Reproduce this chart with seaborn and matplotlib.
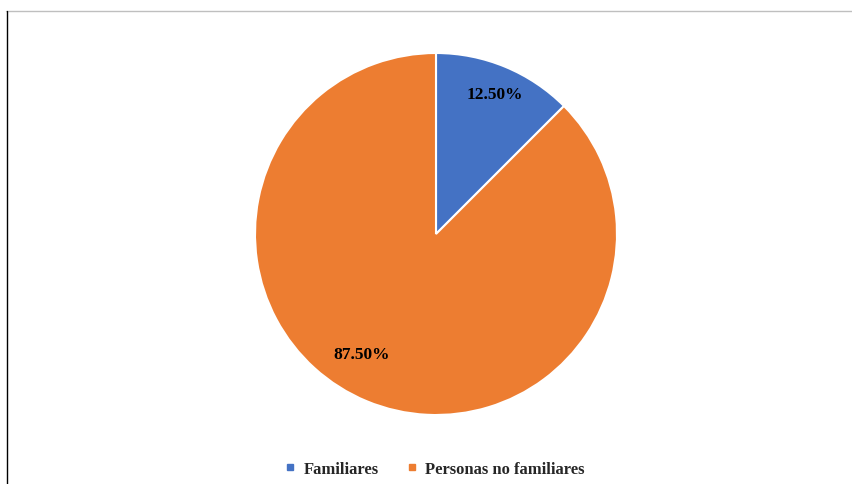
import matplotlib
matplotlib.use("Agg")
import matplotlib.pyplot as plt
from matplotlib.lines import Line2D
import numpy as np
import seaborn as sns

categories = ["Familiares", "Personas no familiares"]
shares = [12.5, 87.5]
colors_hex = ["#4472C4", "#ED7D31"]

sns.set_theme(style="white")
plt.rcParams["font.family"] = ["Liberation Serif", "DejaVu Serif"]
palette = sns.color_palette(colors_hex)

fig = plt.figure(figsize=(8.52, 4.85), dpi=100)
W, H = 852, 485
cx, cy, r = 436, 235, 181
ax = fig.add_axes([(cx - r) / W, (H - cy - r) / H, 2 * r / W, 2 * r / H])

wedges, texts, autotexts = ax.pie(
    shares, colors=palette, startangle=90, counterclock=False,
    autopct=lambda p: f"{p:.2f}%", pctdistance=0.85,
    wedgeprops=dict(edgecolor="white", linewidth=1.5),
    textprops=dict(fontsize=12.5, fontweight="bold", color="black"),
)
# place the larger label further round the slice
ang = np.deg2rad(90 - 212)
autotexts[1].set_position((0.78 * np.cos(ang), 0.78 * np.sin(ang)))
autotexts[0].set_position((autotexts[0].get_position()[0],
                           autotexts[0].get_position()[1] - 0.01))
ax.set_xlim(-1, 1)
ax.set_ylim(-1, 1)
ax.set_aspect("equal")
ax.axis("off")

handles = [Line2D([], [], marker="s", linestyle="none", markersize=5,
                  markerfacecolor=c, markeredgecolor=c) for c in palette]
fig.legend(handles, categories, loc="center", bbox_to_anchor=(434 / W, 1 - 470 / H),
           ncol=2, frameon=False, prop=dict(size=12, weight="bold"),
           handletextpad=0.4, columnspacing=1.6, handlelength=0.8)

# chart frame lines
fig.add_artist(Line2D([6 / W, 1], [1 - 12 / H] * 2, color="#bfbfbf", linewidth=1))
fig.add_artist(Line2D([7 / W] * 2, [0, 1 - 12 / H], color="black", linewidth=1))

fig.savefig("out.png", dpi=100)
